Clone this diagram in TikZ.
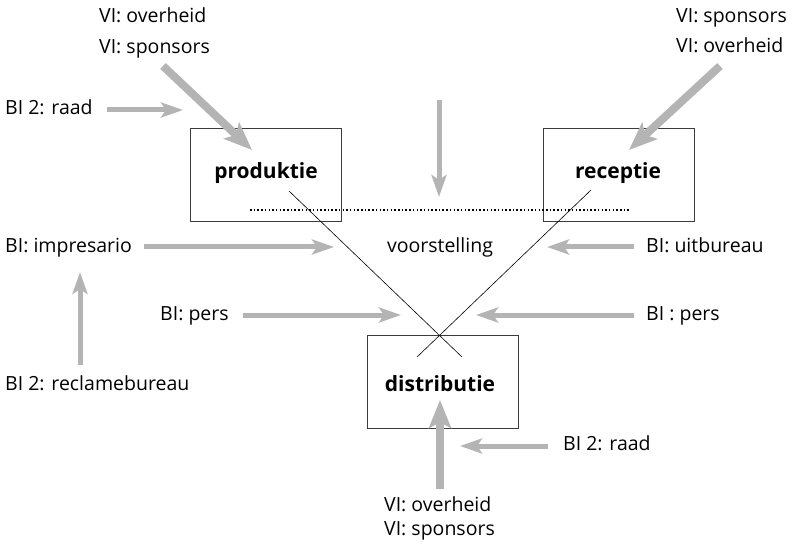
\documentclass[tikz,border=0pt]{standalone}
\usepackage{fontspec}
\setmainfont{Open Sans}
\usetikzlibrary{arrows.meta}
\definecolor{flow}{RGB}{180,180,180}
\definecolor{frame}{RGB}{60,60,60}
\begin{document}
\begin{tikzpicture}[x=1pt,y=-1pt,
  every node/.style={inner sep=0pt, text height=13pt, text depth=4pt,
                     font=\fontsize{19.5}{23}\selectfont},
  lbl/.style={anchor=west},
  title/.style={font=\fontsize{21}{25}\selectfont\bfseries},
  stage/.style={draw=frame, line width=0.9pt, minimum width=151pt, minimum height=93pt,
                text height=, text depth=},
  thin flow/.style={draw=flow, line width=5pt,
                    -{Stealth[length=22pt, width=15pt, inset=5pt]}},
  thick flow/.style={draw=flow, line width=8pt,
                    -{Stealth[length=28pt, width=22pt, inset=6pt]}},
  link/.style={draw=black, line width=0.6pt}]
\useasboundingbox (0,0) rectangle (798,548);

% the three stages
\node[stage] (prod) at (266,175) {};
\node[stage] (rec)  at (619,175) {};
\node[stage] (dist) at (443,382) {};
\node[title] (prodT) at (266,174) {produktie};
\node[title] (recT)  at (618,174) {receptie};
\node[title] (distT) at (440,387) {distributie};

% performance line and crossing links
\coordinate (dotL) at (250,210);
\coordinate (dotR) at (629,210);
\draw[line width=1.5pt, dash pattern=on 1.5pt off 2.2pt] (dotL) -- (dotR);
\coordinate (pA) at (289,191);
\coordinate (pB) at (462,357);
\coordinate (rA) at (591,190);
\coordinate (rB) at (417,357);
\draw[link] (pA) -- (pB);
\draw[link] (rA) -- (rB);
\node (voor) at (440,248) {voorstelling};

% labels
\node[lbl] (vi1) at (99,18)  {VI: overheid};
\node[lbl] (vi2) at (99,49)  {VI: sponsors};
\node[lbl] (raad1) at (5,110) {BI 2: raad};
\node[lbl] (vi3) at (676,18) {VI: sponsors};
\node[lbl] (vi4) at (676,48) {VI: overheid};
\node[lbl] (imp) at (5,248) {BI: impresario};
\node[lbl] (uit) at (646,248) {BI: uitbureau};
\node[lbl] (persL) at (160,316) {BI: pers};
\node[lbl] (persR) at (646,316) {BI : pers};
\node[lbl] (recl) at (5,386) {BI 2: reclamebureau};
\node[lbl] (raad2) at (563,446) {BI 2: raad};
\node[lbl] (vi5) at (384,507) {VI: overheid};
\node[lbl] (vi6) at (384,531) {VI: sponsors};

% flows into the stages
\coordinate (a1s) at (163,66);  \coordinate (a1e) at (252,150);
\coordinate (a2s) at (720,66);  \coordinate (a2e) at (629,150);
\coordinate (a3s) at (440,489); \coordinate (a3e) at (440,400);
\draw[thick flow] (a1s) -- (a1e);
\draw[thick flow] (a2s) -- (a2e);
\draw[thick flow] (a3s) -- (a3e);

\coordinate (b1s) at (107,110); \coordinate (b1e) at (183,110);
\coordinate (b2s) at (439,100); \coordinate (b2e) at (439,197);
\coordinate (b3s) at (144,247); \coordinate (b3e) at (334,247);
\coordinate (b4s) at (80,365);  \coordinate (b4e) at (80,272);
\coordinate (b5s) at (243,315); \coordinate (b5e) at (401,315);
\coordinate (b6s) at (634,247); \coordinate (b6e) at (547,247);
\coordinate (b7s) at (634,315); \coordinate (b7e) at (476,315);
\coordinate (b8s) at (548,446); \coordinate (b8e) at (460,446);
\foreach \s/\e in {b1s/b1e,b2s/b2e,b3s/b3e,b4s/b4e,b5s/b5e,b6s/b6e,b7s/b7e,b8s/b8e}
  \draw[thin flow] (\s) -- (\e);
\end{tikzpicture}
\end{document}
